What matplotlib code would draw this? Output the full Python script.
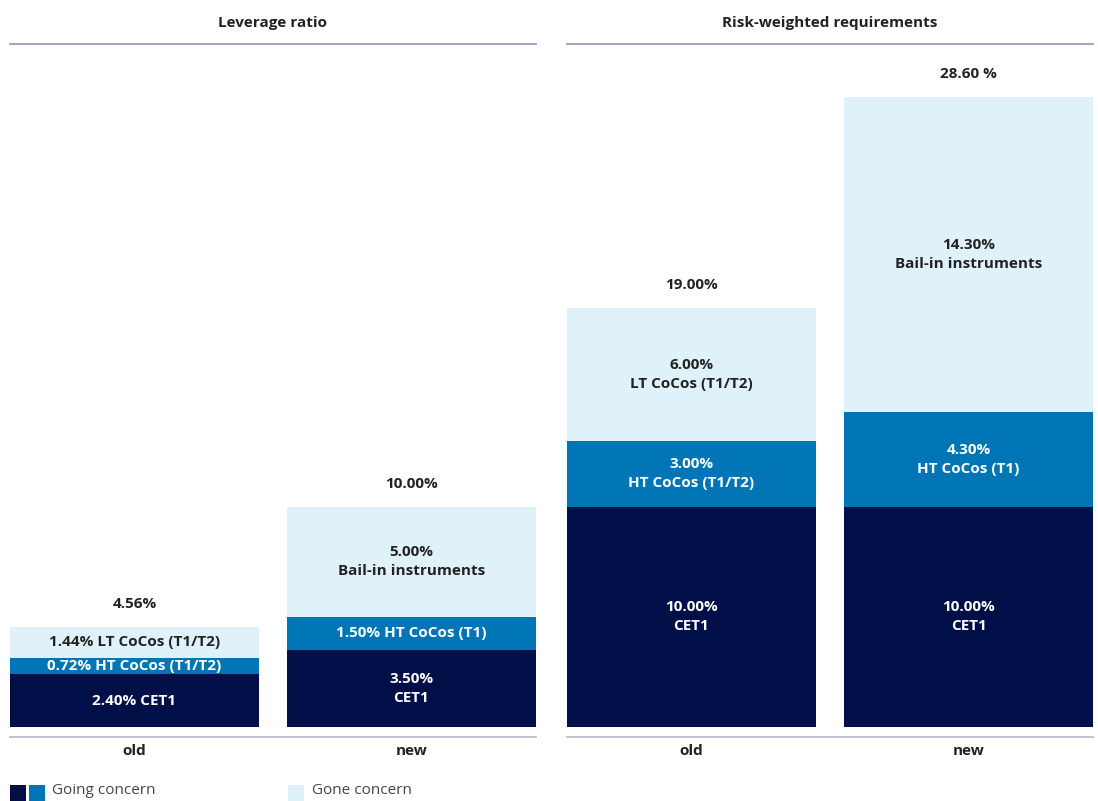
import matplotlib
matplotlib.use("Agg")
import matplotlib.pyplot as plt
from matplotlib.patches import Rectangle

plt.rcParams['font.family'] = ['Open Sans', 'DejaVu Sans']

panels = ["Leverage ratio", "Risk-weighted requirements"]
categories = ["old", "new"]

# values per panel: [old, new], each stack bottom->top
lev_cet1 = [2.40, 3.50]
lev_ht = [0.72, 1.50]
lev_gone = [1.44, 5.00]
lev_totals = ["4.56%", "10.00%"]
lev_labels_cet1 = ["2.40% CET1", "3.50%\nCET1"]
lev_labels_ht = ["0.72% HT CoCos (T1/T2)", "1.50% HT CoCos (T1)"]
lev_labels_gone = ["1.44% LT CoCos (T1/T2)", "5.00%\nBail-in instruments"]

rw_cet1 = [10.00, 10.00]
rw_ht = [3.00, 4.30]
rw_gone = [6.00, 14.30]
rw_totals = ["19.00%", "28.60 %"]
rw_labels_cet1 = ["10.00%\nCET1", "10.00%\nCET1"]
rw_labels_ht = ["3.00%\nHT CoCos (T1/T2)", "4.30%\nHT CoCos (T1)"]
rw_labels_gone = ["6.00%\nLT CoCos (T1/T2)", "14.30%\nBail-in instruments"]

legend_labels = ["Going concern", "Gone concern"]

C_DARK = "#000f47"
C_MID = "#0075b5"
C_LIGHT = "#dff2fa"
C_TEXT = "#222222"
FS = 11
LS = 1.45

W, H = 1098, 801
fig = plt.figure(figsize=(W / 100, H / 100), dpi=100)

scale = 22.03  # px per %
base_px = 727
top_px = 44
bot_px = 737
ymax = (base_px - top_px) / scale
ymin = -(bot_px - base_px) / scale

bw = 249 / 277

panel_x = [(10, 536), (567, 1093)]
data = [
    (lev_cet1, lev_ht, lev_gone, lev_totals, lev_labels_cet1, lev_labels_ht, lev_labels_gone),
    (rw_cet1, rw_ht, rw_gone, rw_totals, rw_labels_cet1, rw_labels_ht, rw_labels_gone),
]

for p, (x0, x1) in enumerate(panel_x):
    ax = fig.add_axes([x0 / W, 1 - bot_px / H, (x1 - x0) / W, (bot_px - top_px) / H])
    cet1, ht, gone, totals, lc, lh, lg = data[p]
    xs = list(range(len(categories)))
    ax.bar(xs, cet1, width=bw, color=C_DARK, linewidth=0)
    ax.bar(xs, ht, width=bw, bottom=cet1, color=C_MID, linewidth=0)
    b2 = [a + b for a, b in zip(cet1, ht)]
    ax.bar(xs, gone, width=bw, bottom=b2, color=C_LIGHT, linewidth=0)
    for i in xs:
        ax.text(i, cet1[i] / 2, lc[i], ha='center', va='center', color='white',
                fontsize=FS, fontweight='bold', linespacing=LS)
        ax.text(i, cet1[i] + ht[i] / 2, lh[i], ha='center', va='center', color='white',
                fontsize=FS, fontweight='bold', linespacing=LS)
        ax.text(i, b2[i] + gone[i] / 2, lg[i], ha='center', va='center', color=C_TEXT,
                fontsize=FS, fontweight='bold', linespacing=LS)
        tot = b2[i] + gone[i]
        ax.text(i, tot + 23 / scale, totals[i], ha='center', va='center', color=C_TEXT,
                fontsize=FS, fontweight='bold')
    ax.set_xlim(-bw / 2, len(categories) - 1 + bw / 2)
    ax.set_ylim(ymin, ymax)
    ax.set_xticks(xs)
    ax.set_xticklabels(categories, fontsize=FS, fontweight='bold', color=C_TEXT)
    ax.tick_params(axis='x', length=0, pad=5)
    ax.set_yticks([])
    for s in ['left', 'right']:
        ax.spines[s].set_visible(False)
    ax.spines['top'].set_color('#8a94c0')
    ax.spines['top'].set_linewidth(1.2)
    ax.spines['bottom'].set_color('#b3b7cc')
    ax.spines['bottom'].set_linewidth(1.2)
    ax.set_title(panels[p], fontsize=FS, fontweight='bold', color=C_TEXT, pad=12)

# legend at the bottom edge
lax = fig.add_axes([0, 0, 1, 1], facecolor='none')
lax.set_xlim(0, W)
lax.set_ylim(H, 0)
lax.axis('off')
lax.add_patch(Rectangle((10, 785), 16, 16, color=C_DARK, lw=0))
lax.add_patch(Rectangle((29, 785), 16, 16, color=C_MID, lw=0))
lax.text(52, 791, legend_labels[0], ha='left', va='center', fontsize=11, color='#444444')
lax.add_patch(Rectangle((288, 785), 16, 16, color=C_LIGHT, lw=0))
lax.text(312, 791, legend_labels[1], ha='left', va='center', fontsize=11, color='#444444')

fig.savefig("out.png", dpi=100)
